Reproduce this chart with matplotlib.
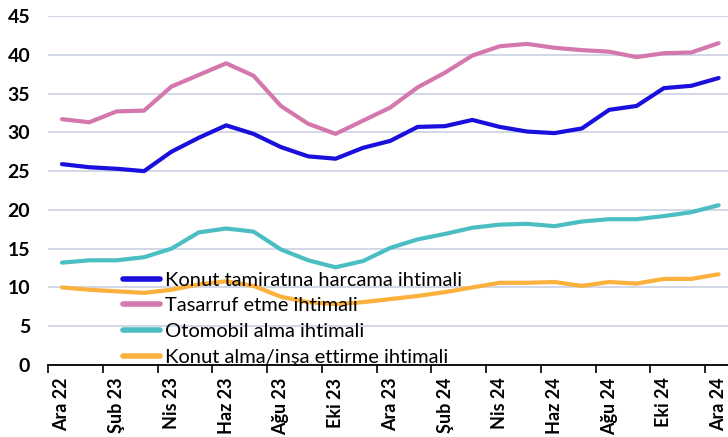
import matplotlib
matplotlib.use("Agg")
import matplotlib.pyplot as plt

months = ["Ara 22", "Oca 23", "Şub 23", "Mar 23", "Nis 23", "May 23", "Haz 23", "Tem 23",
          "Ağu 23", "Eyl 23", "Eki 23", "Kas 23", "Ara 23", "Oca 24", "Şub 24", "Mar 24",
          "Nis 24", "May 24", "Haz 24", "Tem 24", "Ağu 24", "Eyl 24", "Eki 24", "Kas 24", "Ara 24"]

konut_tamirati = [25.9, 25.5, 25.3, 25.0, 27.5, 29.3, 30.9, 29.8, 28.1, 26.9, 26.6, 28.0, 28.9,
                  30.7, 30.8, 31.6, 30.7, 30.1, 29.9, 30.5, 32.9, 33.4, 35.7, 36.0, 37.0]
tasarruf = [31.7, 31.3, 32.7, 32.8, 35.9, 37.4, 38.9, 37.3, 33.4, 31.1, 29.8, 31.5, 33.2,
            35.8, 37.7, 39.9, 41.1, 41.4, 40.9, 40.6, 40.4, 39.7, 40.2, 40.3, 41.5]
otomobil = [13.2, 13.5, 13.5, 13.9, 15.0, 17.1, 17.6, 17.2, 14.9, 13.5, 12.6, 13.4, 15.1,
            16.2, 16.9, 17.7, 18.1, 18.2, 17.9, 18.5, 18.8, 18.8, 19.2, 19.7, 20.6]
konut_alma = [10.0, 9.7, 9.5, 9.3, 9.7, 10.4, 10.8, 10.2, 8.8, 8.1, 7.85, 8.1, 8.5,
              8.9, 9.4, 10.0, 10.6, 10.6, 10.7, 10.2, 10.7, 10.5, 11.1, 11.1, 11.7]

series = [
    ("Konut tamiratına harcama ihtimali", konut_tamirati, "#1A0FDC"),
    ("Tasarruf etme ihtimali", tasarruf, "#D477AD"),
    ("Otomobil alma ihtimali", otomobil, "#4BBEC3"),
    ("Konut alma/inşa ettirme ihtimali", konut_alma, "#FBB13C"),
]

plt.rcParams['font.family'] = ['Lato', 'DejaVu Sans']

fig = plt.figure(figsize=(7.28, 4.37), dpi=100)
ax = fig.add_axes([48.3 / 728, 1 - 365 / 437, 684 / 728, 349 / 437])

x = list(range(len(months)))
for label, vals, color in series:
    ax.plot(x, vals, color=color, lw=3.0, label=label, solid_capstyle='round', zorder=3)

ax.set_xlim(-0.5, 24.5)
ax.set_ylim(0, 45)
ax.set_yticks(range(0, 46, 5))
ax.grid(axis='y', color='#C9D1E3', lw=1.2, zorder=0)
ax.set_axisbelow(True)

for s in ['left', 'right', 'top']:
    ax.spines[s].set_visible(False)
ax.spines['bottom'].set_color('black')
ax.spines['bottom'].set_linewidth(1.3)
ax.spines['bottom'].set_zorder(4)

ax.set_xticks(x[::2])
ax.set_xticklabels(months[::2], rotation=90, fontsize=13, fontweight='bold')
ax.tick_params(axis='x', which='major', length=0, pad=9)
ax.set_xticks([i - 0.5 for i in range(0, 25, 2)], minor=True)
ax.tick_params(axis='x', which='minor', length=6, width=1.2, color='black')
ax.tick_params(axis='y', length=0, pad=13, labelsize=14)
for t in ax.get_yticklabels():
    t.set_fontweight('bold')

leg = ax.legend(loc='upper left', bbox_to_anchor=(0.098, 0.29), frameon=False,
                fontsize=14.5, handlelength=1.8, handletextpad=0.25, labelspacing=0.42,
                borderaxespad=0)
for h in leg.get_lines():
    h.set_linewidth(4)
leg.set_zorder(5)

fig.savefig("out.png", dpi=100)
